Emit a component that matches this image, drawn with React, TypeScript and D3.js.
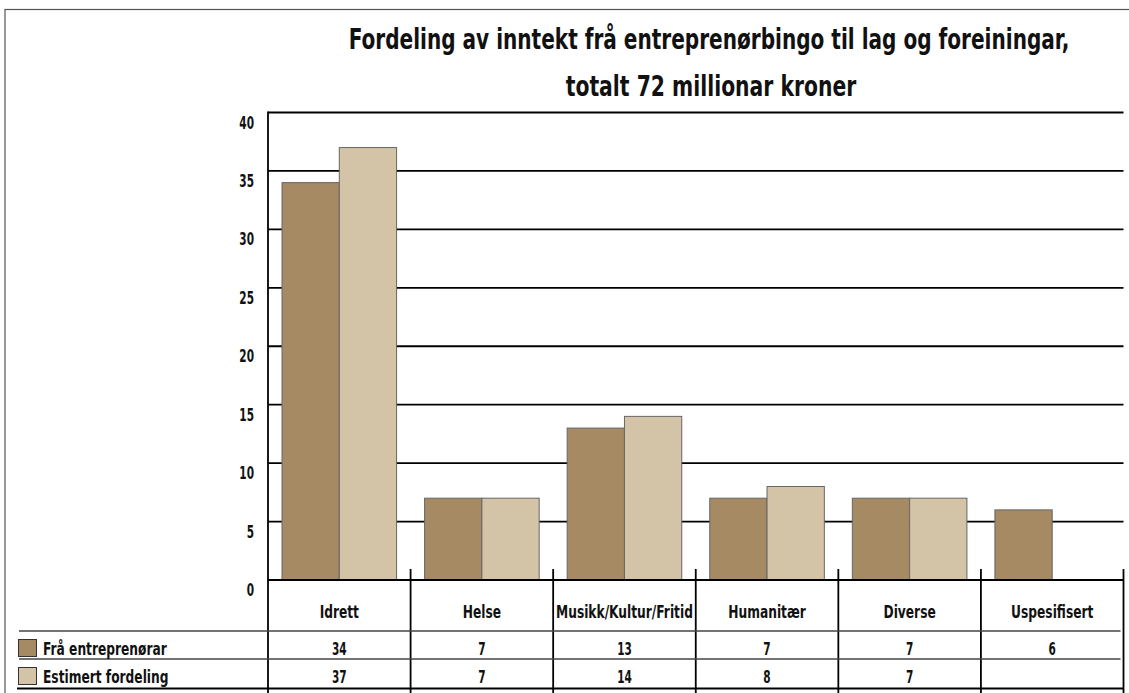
import React from "react"
import * as d3 from "d3"

const categories = ["Idrett", "Helse", "Musikk/Kultur/Fritid", "Humanitær", "Diverse", "Uspesifisert"]
const seriesNames = ["Frå entreprenørar", "Estimert fordeling"]
const fraEntreprenorar: (number | null)[] = [34, 7, 13, 7, 7, 6]
const estimertFordeling: (number | null)[] = [37, 7, 14, 8, 7, null]
const yTicks = [0, 5, 10, 15, 20, 25, 30, 35, 40]
const titleLines = ["Fordeling av inntekt frå entreprenørbingo til lag og foreiningar,", "totalt 72 millionar kroner"]

const colors = ["#a58a63", "#d3c4a8"]
const FONT = "'DejaVu Sans', sans-serif"

const W = 1129
const H = 693

// condensed bold text: DejaVu squeezed horizontally around its anchor
const T = ({ x, y, size = 17, sx = 0.72, anchor = "middle", children }: any) => (
  <text
    transform={`translate(${x},${y}) scale(${sx},1)`}
    textAnchor={anchor}
    fontSize={size}
    fontFamily={FONT}
    fontWeight={700}
    fill="#111"
  >
    {children}
  </text>
)

export default function App() {
  const series = [fraEntreprenorar, estimertFordeling]
  const left = 268
  const right = 1123.5
  const plotTop = 112.5
  const plotBottom = 580
  const row1 = 631
  const row2 = 659
  const row3 = 688.5

  const x = d3.scaleBand<string>().domain(categories).range([left, right]).paddingInner(0).paddingOuter(0)
  const bw = x.bandwidth()
  const inner = d3.scaleBand<string>().domain(seriesNames).range([14, bw - 14]).padding(0)
  const y = d3.scaleLinear().domain([0, 40]).range([plotBottom, plotTop])

  return (
    <div style={{ position: "absolute", left: 0, top: 0 }}>
      <svg width={W} height={H} style={{ display: "block", background: "#fff" }}>
        {/* outer frame */}
        <rect x={5} y={9.5} width={W + 20} height={H + 20} fill="none" stroke="#555" strokeWidth={1.2} />

        {/* title */}
        <T x={709} y={49} size={27.5} sx={0.73}>{titleLines[0]}</T>
        <T x={711} y={96} size={27.5} sx={0.74}>{titleLines[1]}</T>

        {/* gridlines */}
        {yTicks.filter((t) => t > 0).map((t) => (
          <line key={t} x1={left} x2={right} y1={y(t)} y2={y(t)} stroke="#000" strokeWidth={1.8} />
        ))}

        {/* bars */}
        {categories.map((c, i) => (
          <g key={c} transform={`translate(${x(c)},0)`}>
            {series.map((s, j) => {
              const v = s[i]
              if (v == null) return null
              return (
                <rect
                  key={j}
                  x={inner(seriesNames[j])}
                  y={y(v)}
                  width={inner.bandwidth()}
                  height={plotBottom - y(v)}
                  fill={colors[j]}
                  stroke="#666"
                  strokeWidth={1}
                />
              )
            })}
          </g>
        ))}

        {/* y labels */}
        {yTicks.map((t) => (
          <T key={t} x={254} y={y(t) + 16} anchor="end" sx={0.62}>
            {t}
          </T>
        ))}

        {/* axis lines */}
        <line x1={left} x2={right} y1={plotBottom} y2={plotBottom} stroke="#000" strokeWidth={1.8} />
        <line x1={left} x2={left} y1={plotTop - 1} y2={H} stroke="#000" strokeWidth={1.8} />
        {categories.map((c) => (
          <line key={c} x1={x(c)! + bw} x2={x(c)! + bw} y1={569} y2={H} stroke="#000" strokeWidth={1.8} />
        ))}

        {/* table rows */}
        <line x1={19} x2={right - 3} y1={row1} y2={row1} stroke="#444" strokeWidth={1.6} />
        <line x1={19} x2={right - 3} y1={row2} y2={row2} stroke="#444" strokeWidth={1.6} />
        <line x1={17} x2={right} y1={row3} y2={row3} stroke="#000" strokeWidth={1.8} />

        {/* category labels */}
        {categories.map((c) => (
          <T key={c} x={x(c)! + bw / 2} y={618}>
            {c}
          </T>
        ))}

        {/* legend + values */}
        {series.map((s, j) => {
          const rowY = j === 0 ? row1 : row2
          return (
            <g key={j}>
              <rect x={18.5} y={rowY + 8.5} width={18} height={17} fill={colors[j]} stroke="#333" strokeWidth={1} />
              <T x={43} y={rowY + 23.5} anchor="start">
                {seriesNames[j]}
              </T>
              {categories.map((c, i) =>
                s[i] == null ? null : (
                  <T key={c} x={x(c)! + bw / 2} y={rowY + 23.5} sx={0.62}>
                    {s[i]}
                  </T>
                )
              )}
            </g>
          )
        })}
      </svg>
    </div>
  )
}
